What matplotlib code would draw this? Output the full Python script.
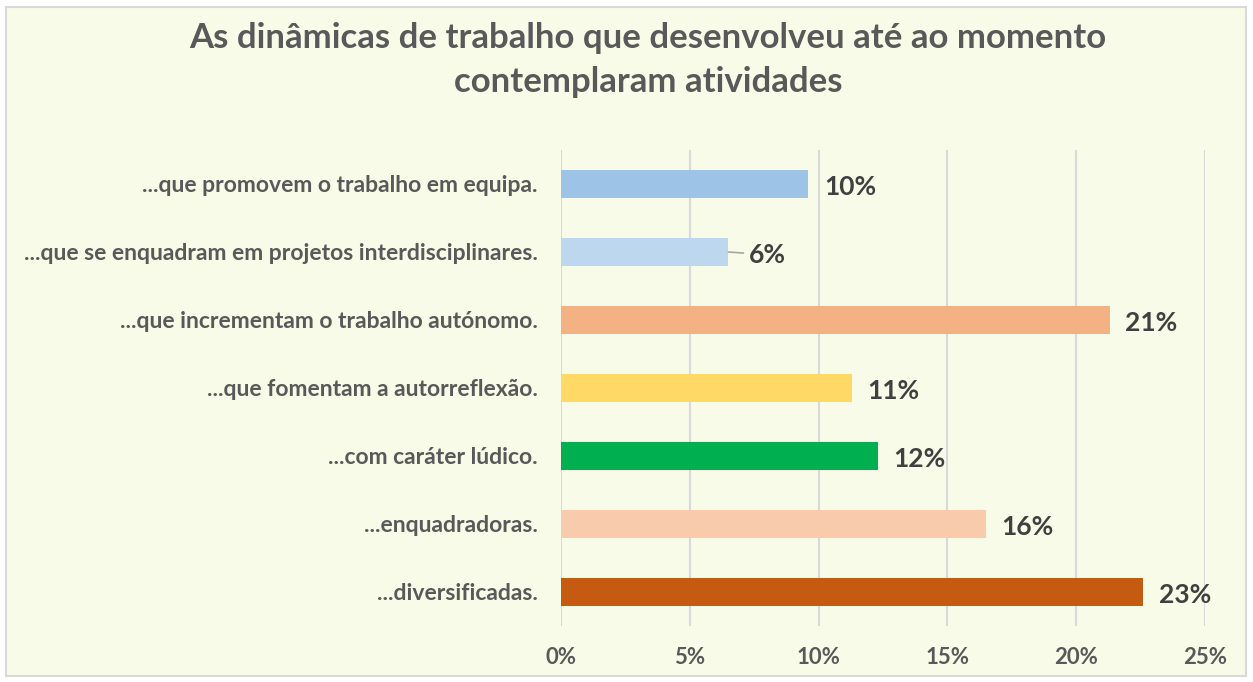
import numpy as np
import matplotlib
matplotlib.use('Agg')
import matplotlib.pyplot as plt
from matplotlib.patches import Rectangle

plt.rcParams['font.family'] = ['Lato', 'DejaVu Sans']

categories = ['...que promovem o trabalho em equipa.',
              '...que se enquadram em projetos interdisciplinares.',
              '...que incrementam o trabalho autónomo.',
              '...que fomentam a autorreflexão.',
              '...com caráter lúdico.',
              '...enquadradoras.',
              '...diversificadas.']
values = [9.6, 6.5, 21.3, 11.3, 12.3, 16.5, 22.6]
labels = ['10%', '6%', '21%', '11%', '12%', '16%', '23%']
colors = ['#9DC3E6', '#BDD7EE', '#F4B183', '#FFD966', '#00B050', '#F8CBAD', '#C55A11']
ticks = [0, 5, 10, 15, 20, 25]

bg = '#F8FBE8'
fig = plt.figure(figsize=(12.53, 6.82), dpi=100)
fig.patch.set_facecolor('white')
fig.patches.append(Rectangle((6/1253, 6/682), 1240/1253, 669/682, transform=fig.transFigure,
                             facecolor=bg, edgecolor='#D9D9D9', linewidth=1.5, zorder=-10))

ax = fig.add_axes([561/1253, 1-626/682, 644/1253, 476/682])
ax.set_facecolor('none')
y = np.arange(len(categories))
ax.barh(y, values, height=0.42, color=colors, zorder=3)
ax.set_ylim(len(categories)-0.5, -0.5)
ax.set_xlim(0, 25)
ax.set_xticks(ticks)
ax.set_xticklabels([f'{t}%' for t in ticks])
ax.set_yticks(y)
ax.set_yticklabels(categories)
ax.grid(axis='x', color='#D9D9D9', linewidth=1.5, zorder=0)
for s in ax.spines.values():
    s.set_visible(False)
ax.tick_params(axis='both', length=0, colors='#595959')
for t in ax.get_yticklabels():
    t.set_fontsize(16.5)
    t.set_fontweight('bold')
    t.set_color('#595959')
for t in ax.get_xticklabels():
    t.set_fontsize(16)
    t.set_fontweight('bold')
    t.set_color('#595959')
ax.tick_params(axis='y', pad=17)
ax.tick_params(axis='x', pad=15)

for i, (v, lab) in enumerate(zip(values, labels)):
    if i == 1:
        ax.annotate(lab, xy=(v, i), xytext=(v + 0.8, i + 0.04), va='center', ha='left',
                    fontsize=19, fontweight='bold', color='#404040',
                    arrowprops=dict(arrowstyle='-', color='#A6A6A6', lw=1.2,
                                    shrinkA=2, shrinkB=0))
    else:
        ax.text(v + 0.6, i + 0.04, lab, va='center', ha='left',
                fontsize=19, fontweight='bold', color='#404040')

fig.text(0.517, 1-38/682, 'As dinâmicas de trabalho que desenvolveu até ao momento',
         ha='center', va='center', fontsize=25, fontweight='bold', color='#595959')
fig.text(0.517, 1-82/682, 'contemplaram atividades',
         ha='center', va='center', fontsize=25, fontweight='bold', color='#595959')

fig.savefig('out.png', dpi=100, facecolor=fig.get_facecolor())
